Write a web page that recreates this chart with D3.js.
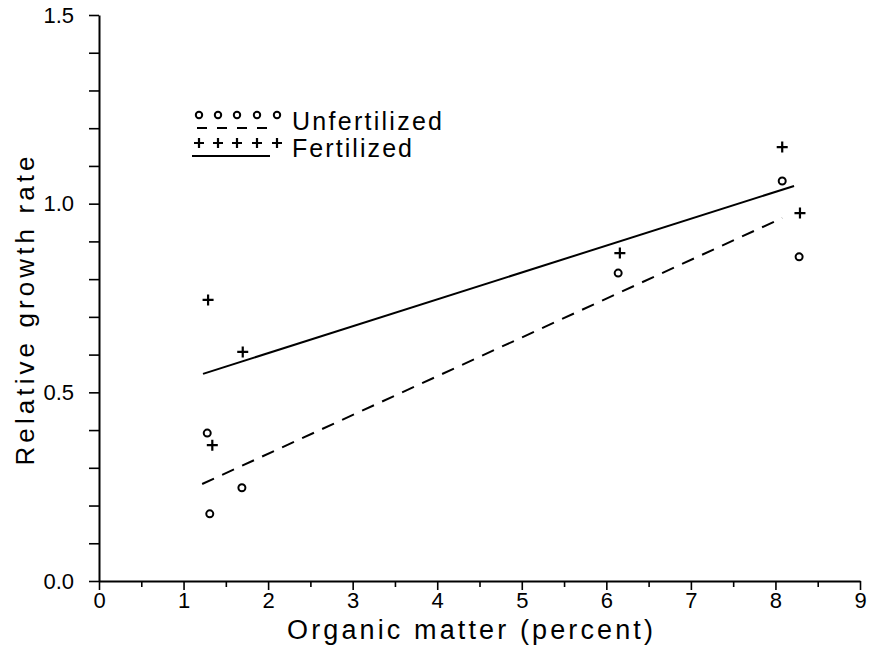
<!DOCTYPE html>
<html>
<head>
<meta charset="utf-8">
<script src="https://cdn.jsdelivr.net/npm/d3@7"></script>
<style>
  body { margin: 0; background: #fff; }
  svg { font-family: "Liberation Sans", Arial, sans-serif; }
</style>
</head>
<body>
<svg id="chart" width="870" height="649"></svg>
<script>
// organic matter (percent) vs relative growth rate
const fertX = [1.29, 1.70, 1.34, 6.16, 8.08, 8.29]
const fertY = [0.745, 0.607, 0.360, 0.869, 1.150, 0.975]
const unfertX = [1.28, 1.69, 1.31, 6.14, 8.08, 8.28]
const unfertY = [0.392, 0.247, 0.178, 0.816, 1.060, 0.859]

// fitted lines (end points)
const fertFitX = [1.23, 8.22]
const fertFitY = [0.549, 1.047]
const unfertFitX = [1.22, 8.08]
const unfertFitY = [0.257, 0.962]

const xTicks = d3.range(0, 9.01, 0.5)
const yTicks = d3.range(0, 1.501, 0.1)
const legendLabels = ['Unfertilized', 'Fertilized']

const svg = d3.select('#chart')
const x = d3.scaleLinear().domain([0, 9]).range([99, 860])
const y = d3.scaleLinear().domain([0, 1.5]).range([581, 15])

// y axis
const yaxis = d3.axisLeft(y)
  .tickValues(yTicks)
  .tickSize(10)
  .tickSizeOuter(0)
  .tickPadding(15)
  .tickFormat(d => Math.abs(d * 2 - Math.round(d * 2)) < 1e-6 ? d3.format('.1f')(d) : '')

const yaxisg = svg.append('g')
  .attr('transform', `translate(${x(0)},0)`)
  .call(yaxis)
yaxisg.attr('font-family', null)
yaxisg.select('.domain').attr('stroke-width', 2)
yaxisg.selectAll('.tick line').attr('stroke-width', 1.6)
yaxisg.selectAll('.tick text')
  .style('font-size', '22px')
  .attr('fill', '#000')

// x axis
const xaxis = d3.axisBottom(x)
  .tickValues(xTicks)
  .tickSize(9)
  .tickSizeOuter(0)
  .tickPadding(2)
  .tickFormat(d => Number.isInteger(d) ? d : '')

const xaxisg = svg.append('g')
  .attr('transform', `translate(0,${y(0)})`)
  .call(xaxis)
xaxisg.attr('font-family', null)
xaxisg.select('.domain').attr('stroke-width', 2)
xaxisg.selectAll('.tick line')
  .attr('stroke-width', 1.6)
  .attr('y2', d => Number.isInteger(d) ? 9 : 6)
xaxisg.selectAll('.tick text')
  .style('font-size', '22px')
  .attr('fill', '#000')

// axis titles
svg.append('text')
  .attr('x', 470)
  .attr('y', 639)
  .attr('text-anchor', 'middle')
  .attr('textLength', 366)
  .attr('lengthAdjust', 'spacing')
  .style('font-size', '27px')
  .text('Organic matter (percent)')

svg.append('text')
  .attr('transform', 'translate(34,311) rotate(-90)')
  .attr('text-anchor', 'middle')
  .attr('textLength', 309)
  .attr('lengthAdjust', 'spacing')
  .style('font-size', '26px')
  .text('Relative growth rate')

// fitted lines
const line = d3.line().x(d => x(d[0])).y(d => y(d[1]))
svg.append('path')
  .datum(fertFitX.map((v, i) => [v, fertFitY[i]]))
  .attr('d', line)
  .attr('fill', 'none')
  .attr('stroke', '#000')
  .attr('stroke-width', 2)

svg.append('path')
  .datum(unfertFitX.map((v, i) => [v, unfertFitY[i]]))
  .attr('d', line)
  .attr('fill', 'none')
  .attr('stroke', '#000')
  .attr('stroke-width', 2)
  .attr('stroke-dasharray', '13,9')

// points
svg.append('g').selectAll('path')
  .data(fertX.map((v, i) => [v, fertY[i]]))
  .enter()
  .append('path')
  .attr('transform', d => `translate(${x(d[0])},${y(d[1])})`)
  .attr('d', 'M-5.5,0H5.5M0,-5.5V5.5')
  .attr('stroke', '#000')
  .attr('stroke-width', 2.2)

svg.append('g').selectAll('circle')
  .data(unfertX.map((v, i) => [v, unfertY[i]]))
  .enter()
  .append('circle')
  .attr('cx', d => x(d[0]))
  .attr('cy', d => y(d[1]))
  .attr('r', 3.5)
  .attr('fill', 'none')
  .attr('stroke', '#000')
  .attr('stroke-width', 2)

// legend
const lg = svg.append('g')
const sym = [199, 218, 237, 257, 277]
lg.selectAll('circle').data(sym).enter().append('circle')
  .attr('cx', d => d).attr('cy', 115).attr('r', 3.2)
  .attr('fill', 'none').attr('stroke', '#000').attr('stroke-width', 2)
lg.append('line')
  .attr('x1', 197).attr('x2', 268).attr('y1', 128).attr('y2', 128)
  .attr('stroke', '#000').attr('stroke-width', 2)
  .attr('stroke-dasharray', '10,10')
lg.selectAll('path').data(sym).enter().append('path')
  .attr('transform', d => `translate(${d},143)`)
  .attr('d', 'M-5,0H5M0,-5V5')
  .attr('stroke', '#000').attr('stroke-width', 2.2)
lg.append('line')
  .attr('x1', 192).attr('x2', 270).attr('y1', 156).attr('y2', 156)
  .attr('stroke', '#000').attr('stroke-width', 2)

lg.selectAll('text').data(legendLabels).enter().append('text')
  .attr('x', 292)
  .attr('y', (d, i) => 130 + i * 27)
  .attr('textLength', (d, i) => i === 0 ? 150 : 120)
  .attr('lengthAdjust', 'spacing')
  .style('font-size', '25px')
  .text(d => d)
</script>
</body>
</html>
